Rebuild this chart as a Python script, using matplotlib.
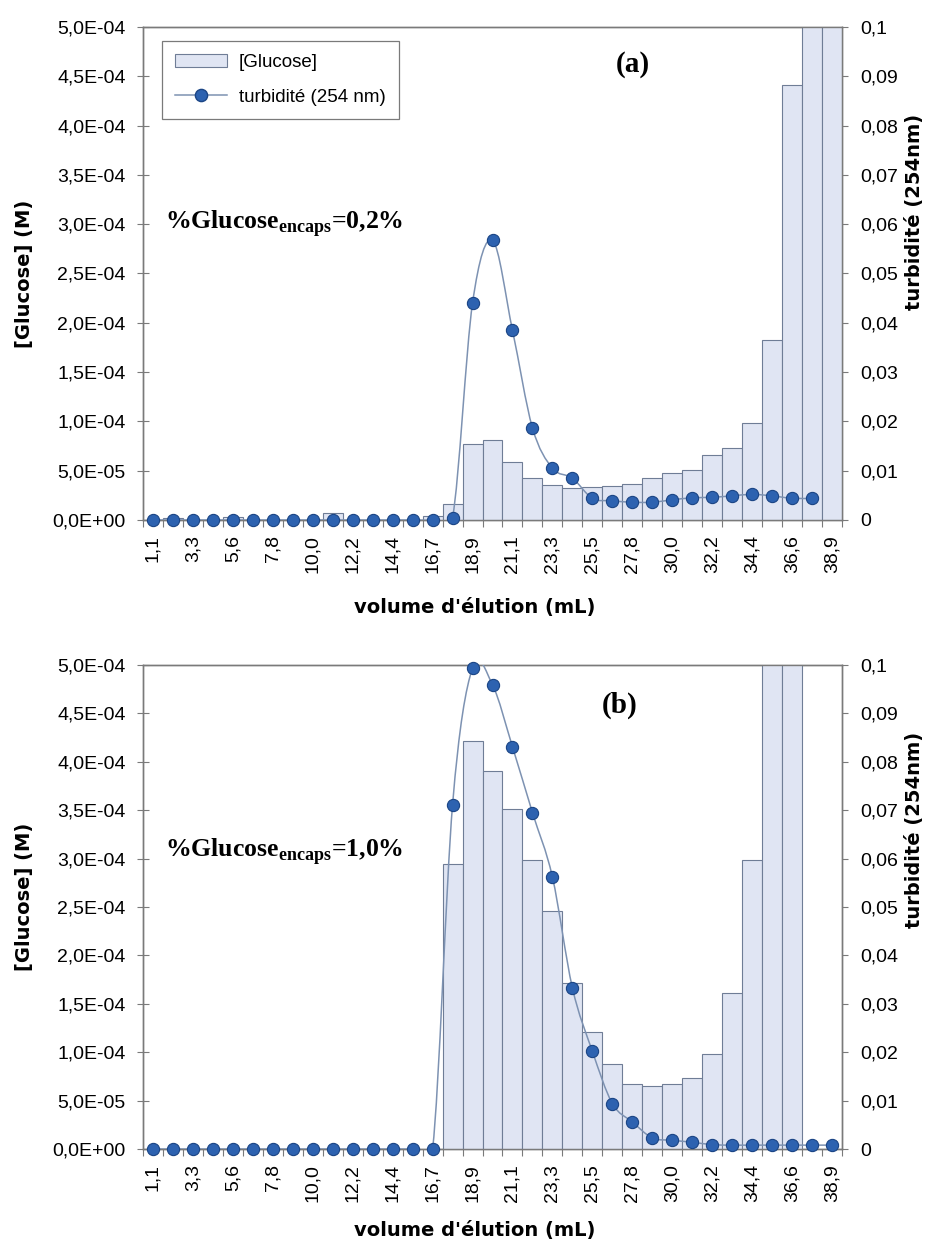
import numpy as np
import matplotlib.pyplot as plt
import matplotlib as mpl
from matplotlib.path import Path
from matplotlib.patches import PathPatch, Patch
from matplotlib.lines import Line2D
from matplotlib.ticker import FuncFormatter

mpl.rcParams.update({
    "font.family": "Liberation Sans",
    "mathtext.fontset": "custom",
    "mathtext.rm": "Liberation Serif:bold",
    "mathtext.bf": "Liberation Serif:bold",
})

# --- data ---
volumes = ["1,1", "2,2", "3,3", "4,4", "5,6", "6,7", "7,8", "8,9", "10,0", "11,1",
           "12,2", "13,3", "14,4", "15,6", "16,7", "17,8", "18,9", "20,0", "21,1", "22,2",
           "23,3", "24,4", "25,5", "26,7", "27,8", "28,9", "30,0", "31,1", "32,2", "33,3",
           "34,4", "35,5", "36,6", "37,8", "38,9"]

# panel (a): [Glucose] in M (values above 5e-4 are off scale)
glucose_a = [0, 2e-6, 0, 0, 3e-6, 0, 0, 0, 0, 7e-6,
             0, 0, 0, 0, 4e-6, 1.6e-5, 7.7e-5, 8.1e-5, 5.9e-5, 4.3e-5,
             3.5e-5, 3.2e-5, 3.3e-5, 3.45e-5, 3.7e-5, 4.3e-5, 4.8e-5, 5.1e-5, 6.6e-5, 7.3e-5,
             9.8e-5, 1.83e-4, 4.41e-4, 6.5e-4, 7.5e-4]
# panel (a): turbidity at 254 nm (no reading for the last fraction)
turb_a = [0, 0, 0, 0, 0, 0, 0, 0, 0, 0,
          0, 0, 0, 0, 0, 0.0005, 0.044, 0.0567, 0.0385, 0.0187,
          0.0105, 0.0085, 0.0044, 0.0039, 0.0036, 0.0036, 0.0041, 0.0045, 0.0046, 0.0049,
          0.0052, 0.0049, 0.0044, 0.0044]

# panel (b)
glucose_b = [0, 0, 0, 0, 0, 0, 0, 0, 0, 0,
             0, 0, 0, 0, 0, 2.94e-4, 4.22e-4, 3.90e-4, 3.51e-4, 2.99e-4,
             2.46e-4, 1.72e-4, 1.21e-4, 0.88e-4, 0.67e-4, 0.65e-4, 0.67e-4, 0.73e-4, 0.98e-4, 1.61e-4,
             2.99e-4, 6.5e-4, 7.0e-4, 0, 0]
turb_b = [0, 0, 0, 0, 0, 0, 0, 0, 0, 0,
          0, 0, 0, 0, 0, 0.0711, 0.0994, 0.0959, 0.0831, 0.0695,
          0.0562, 0.0333, 0.0202, 0.0094, 0.0056, 0.0023, 0.0018, 0.0014, 0.0009, 0.0008,
          0.0008, 0.0008, 0.0008, 0.0008, 0.0008]

panels = [
    ("(a)", "0,2%", glucose_a, turb_a),
    ("(b)", "1,0%", glucose_b, turb_b),
]

BAR_FILL = "#e0e5f3"
BAR_EDGE = "#6f7d96"
DOT = "#2d62b0"
DOT_EDGE = "#1b4585"
LINE = "#7d92b2"
AX_GREY = "#7a7a7a"
TICK_FS = 14
LAB_FS = 14


def smooth_path(x, y):
    # Catmull-Rom style Bezier through the points (Excel "smoothed line")
    pts = np.column_stack([x, y]).astype(float)
    n = len(pts)
    verts = [pts[0]]
    codes = [Path.MOVETO]
    for i in range(n - 1):
        p0 = pts[i - 1] if i > 0 else pts[i]
        p1, p2 = pts[i], pts[i + 1]
        p3 = pts[i + 2] if i + 2 < n else pts[i + 1]
        verts += [p1 + (p2 - p0) / 6.0, p2 - (p3 - p1) / 6.0, p2]
        codes += [Path.CURVE4] * 3
    return Path(verts, codes)


fmt_left = FuncFormatter(lambda v, p: f"{v:.1E}".replace(".", ","))
fmt_right = FuncFormatter(lambda v, p: f"{v:g}".replace(".", ","))

W, H = 925, 1239
fig = plt.figure(figsize=(W / 100, H / 100), dpi=100)

# axes boxes in pixels: left, top, right, bottom
boxes = [(143, 27, 842, 520), (143, 665, 842, 1149)]
ylab_right_y = [0.625, 0.66]
ylab_left_y = [0.5, 0.52]
xlab_y = [-0.158, -0.149]

for k, ((tag, pct, gluc, turb), (l, t, r, b)) in enumerate(zip(panels, boxes)):
    ax = fig.add_axes([l / W, 1 - b / H, (r - l) / W, (b - t) / H])
    ax2 = ax.twinx()

    xs = np.arange(len(volumes))
    ax.bar(xs, gluc, width=1.0, color=BAR_FILL, edgecolor=BAR_EDGE, linewidth=0.8, zorder=3)
    ax.set_xlim(-0.5, len(volumes) - 0.5)
    ax.set_ylim(0, 5e-4)
    ax.set_yticks(np.linspace(0, 5e-4, 11))
    ax.yaxis.set_major_formatter(fmt_left)

    # category boundaries get the tick marks, centres get the labels
    ax.set_xticks(np.arange(len(volumes) + 1) - 0.5)
    ax.set_xticklabels([])
    ax.set_xticks(xs[::2], minor=True)
    ax.set_xticklabels(volumes[::2], minor=True, rotation=90, fontsize=TICK_FS)
    ax.tick_params(axis="x", which="major", direction="out", length=5, color=AX_GREY)
    ax.tick_params(axis="x", which="minor", length=0, pad=11)
    ax.tick_params(axis="y", direction="inout", length=9, color=AX_GREY, labelsize=TICK_FS, pad=8)

    tx = np.arange(len(turb))
    ax2.add_patch(PathPatch(smooth_path(tx, turb), fill=False, edgecolor=LINE, linewidth=1.1, zorder=4))
    ax2.plot(tx, turb, linestyle="none", marker="o", markersize=8.8,
             markerfacecolor=DOT, markeredgecolor=DOT_EDGE, markeredgewidth=0.8, zorder=5,
             clip_on=False)
    ax2.set_ylim(0, 0.1)
    ax2.set_yticks(np.linspace(0, 0.1, 11))
    ax2.yaxis.set_major_formatter(fmt_right)
    ax2.tick_params(axis="y", direction="out", length=4, color=AX_GREY, labelsize=TICK_FS, pad=9)

    for a in (ax, ax2):
        for s in a.spines.values():
            s.set_color(AX_GREY)
            s.set_linewidth(1.0)

    ax.set_ylabel("[Glucose] (M)", fontsize=LAB_FS, fontweight="bold", family="DejaVu Sans")
    ax.yaxis.set_label_coords(-0.156, ylab_left_y[k])
    ax2.set_ylabel("turbidité (254nm)", fontsize=LAB_FS, fontweight="bold", family="DejaVu Sans",
                   rotation=90)
    ax2.yaxis.set_label_coords(1.09, ylab_right_y[k])
    ax.set_xlabel("volume d'élution (mL)", fontsize=LAB_FS, fontweight="bold", family="DejaVu Sans")
    ax.xaxis.set_label_coords(0.474, xlab_y[k])

    ax.text(0.031, 0.602 if k == 0 else 0.614,
            "%Glucose$_{\\mathbf{encaps}}$=" + pct,
            transform=ax.transAxes, fontsize=18.5, fontweight="bold",
            family="Liberation Serif", va="center", ha="left")
    ax.text(0.701 if k == 0 else 0.682, 0.923 if k == 0 else 0.917, tag,
            transform=ax.transAxes, fontsize=21, fontweight="bold",
            family="Liberation Serif", va="center", ha="center")

    if k == 0:
        handles = [
            Patch(facecolor=BAR_FILL, edgecolor=BAR_EDGE, linewidth=0.8),
            Line2D([], [], color=LINE, linewidth=1.1, marker="o", markersize=8.8,
                   markerfacecolor=DOT, markeredgecolor=DOT_EDGE),
        ]
        leg = ax2.legend(handles, ["[Glucose]", "turbidité (254 nm)"],
                         loc="upper left", bbox_to_anchor=(0.027, 0.972),
                         borderaxespad=0, fancybox=False, framealpha=1,
                         edgecolor=AX_GREY, fontsize=13.5, handlelength=2.8,
                         handletextpad=0.6, labelspacing=0.95, borderpad=0.7)
        leg.get_frame().set_linewidth(0.9)

fig.savefig("out.png", dpi=100)
